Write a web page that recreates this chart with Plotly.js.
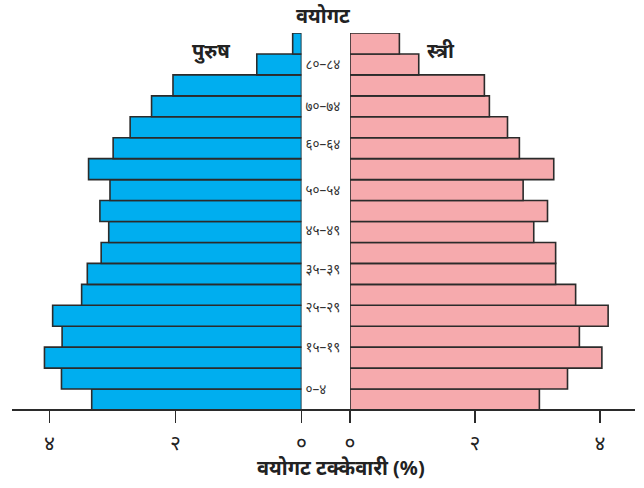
<!DOCTYPE html>
<html>
<head>
<meta charset="utf-8">
<script src="https://cdn.plot.ly/plotly-3.0.1.min.js"></script>
<style>html,body{margin:0;padding:0;background:#fff;}#chart{width:644px;height:488px;}</style>
</head>
<body>
<div id="chart"></div>
<script>
// Age groups (bottom to top)
const ageGroups = ['०–४','५–९','१०–१४','१५–१९','२०–२४','२५–२९','३०–३४','३५–३९','४०–४४','४५–४९','५०–५४','५५–५९','६०–६४','६५–६९','७०–७४','७५–७९','८०–८४','८५+'];
// Percent of population
const male   = [3.33,3.81,4.08,3.80,3.95,3.49,3.40,3.18,3.06,3.20,3.04,3.38,2.99,2.72,2.38,2.04,0.71,0.14];
const female = [3.03,3.48,4.03,3.67,4.13,3.61,3.29,3.29,2.94,3.16,2.77,3.26,2.71,2.52,2.23,2.15,1.10,0.79];
// Age tick labels shown in the centre column
const ageTickLabels = ['०–४','१५–१९','२५–२९','३५–३९','४५–४९','५०–५४','६०–६४','७०–७४','८०–८४'];
// Percent axis tick labels
const pctTickVals = [0, 2, 4];
const pctTickText = ['०', '२', '४'];
const labelMale = 'पुरुष';
const labelFemale = 'स्त्री';
const titleTop = 'वयोगट';
const titleX = 'वयोगट टक्केवारी (%)';

const idx = ageGroups.map((_, i) => i);
const ageTickPos = [0.5, 2.5, 4.4, 6.2, 8.1, 10, 12.2, 14, 16];

const FONT = 'Noto Sans, sans-serif';
const lineCol = '#2b2b2b';

const traces = [
  {type:'bar', orientation:'h', x: male, y: idx, xaxis:'x', yaxis:'y', name: labelMale,
   marker:{color:'#00AEEF', line:{color:lineCol, width:1.6}}, hoverinfo:'x+y'},
  {type:'bar', orientation:'h', x: female, y: idx, xaxis:'x2', yaxis:'y', name: labelFemale,
   marker:{color:'#F6AAAD', line:{color:lineCol, width:1.6}}, hoverinfo:'x+y'}
];

const L = 12, R = 9, T = 33, B = 78;
const W = 644 - L - R, H = 488 - T - B;
const px2x = p => (p - L) / W;
const px2y = p => (488 - B - p) / H;

const axisCommon = {
  tickvals: pctTickVals, ticktext: pctTickText, ticks:'outside', ticklen:12, tickwidth:1.5,
  tickcolor: lineCol, showgrid:false, zeroline:false, showline:false,
  tickfont:{family:FONT, size:21, color:'#222'}, ticklabelstandoff: 2, fixedrange:true
};

const layout = {
  width:644, height:488, margin:{l:L, r:R, t:T, b:B},
  paper_bgcolor:'#fff', plot_bgcolor:'rgba(0,0,0,0)',
  showlegend:false, bargap:0,
  xaxis: Object.assign({}, axisCommon, {domain:[0, px2x(301.5)], range:[(301.5-L)/63, 0], anchor:'y'}),
  xaxis2: Object.assign({}, axisCommon, {domain:[px2x(350), 1], range:[0, (644-R-350)/62.5], anchor:'y'}),
  yaxis: {range:[-0.5, 17.5], tickvals: ageTickPos, ticktext: ageTickLabels,
    anchor:'free', position: px2x(301.5), side:'right', ticks:'', ticklabelstandoff: 3,
    showgrid:false, zeroline:false, showline:false,
    tickfont:{family:FONT, size:13.5, color:'#333'}, fixedrange:true},
  shapes: [
    {type:'line', xref:'paper', yref:'paper', x0:0, x1:1, y0:0, y1:0, line:{color:lineCol, width:2}}
  ],
  annotations: [
    {text: titleTop, xref:'paper', yref:'paper', x: px2x(323), y: px2y(15), showarrow:false,
     font:{family:FONT, size:20, color:'#222', weight:'bold'}, xanchor:'center', yanchor:'middle'},
    {text: labelMale, xref:'paper', yref:'paper', x: px2x(211), y: px2y(50), showarrow:false,
     font:{family:FONT, size:20, color:'#222', weight:'bold'}, xanchor:'center', yanchor:'middle'},
    {text: labelFemale, xref:'paper', yref:'paper', x: px2x(441), y: px2y(51), showarrow:false,
     font:{family:FONT, size:20, color:'#222', weight:'bold'}, xanchor:'center', yanchor:'middle'},
    {text: titleX, xref:'paper', yref:'paper', x: px2x(341), y: px2y(468), showarrow:false,
     font:{family:FONT, size:20, color:'#222', weight:'bold'}, xanchor:'center', yanchor:'middle'}
  ]
};

Plotly.newPlot('chart', traces, layout, {displayModeBar:false, staticPlot:true});
</script>
</body>
</html>
